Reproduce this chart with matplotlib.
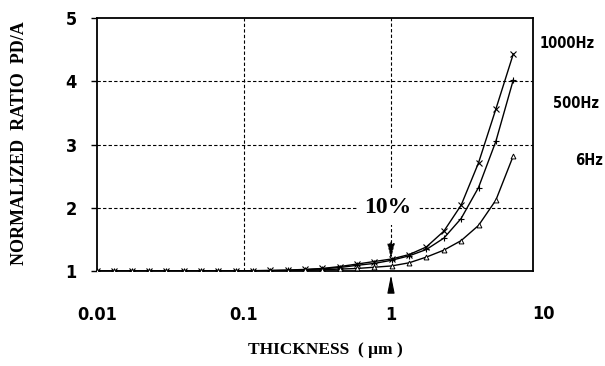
import matplotlib
matplotlib.use('Agg')
import matplotlib.pyplot as plt

# -- data --
thickness = [0.010, 0.0131, 0.0172, 0.0226, 0.0296, 0.0389, 0.0510, 0.0669,
             0.0878, 0.115, 0.151, 0.198, 0.260, 0.341, 0.448, 0.588,
             0.771, 1.01, 1.33, 1.74, 2.29, 3.00, 3.94, 5.17, 6.79]
ratio_1000 = [1.0, 1.0, 1.0, 1.0, 1.0, 1.0, 1.0, 1.0, 1.0, 1.005, 1.01, 1.015,
              1.025, 1.04, 1.07, 1.11, 1.15, 1.19, 1.26, 1.38, 1.63, 2.04,
              2.71, 3.56, 4.43]
ratio_500 = [1.0, 1.0, 1.0, 1.0, 1.0, 1.0, 1.0, 1.0, 1.0, 1.0, 1.005, 1.01,
             1.02, 1.035, 1.055, 1.09, 1.12, 1.17, 1.24, 1.34, 1.52, 1.83,
             2.32, 3.05, 4.02]
ratio_6 = [1.0, 1.0, 1.0, 1.0, 1.0, 1.0, 1.0, 1.0, 1.0, 1.0, 1.0, 1.005,
           1.01, 1.02, 1.03, 1.04, 1.06, 1.08, 1.13, 1.22, 1.33, 1.48,
           1.72, 2.12, 2.82]
series_labels = ['1000Hz', '500Hz', '6Hz']
x_ticks = [0.01, 0.1, 1]
x_tick_labels = ['0.01', '0.1', '1']
y_ticks = [1, 2, 3, 4, 5]

NARROW = dict(family=['Liberation Sans Narrow', 'DejaVu Sans'], fontweight='bold',
              fontstretch='condensed')
SERIF = ['Liberation Serif', 'DejaVu Serif']

fig = plt.figure(figsize=(6.05, 3.66), dpi=100)
ax = fig.add_axes([97 / 605, 1 - 271 / 366, (533 - 97) / 605, (271 - 18) / 366])

ax.set_xscale('log')
ax.set_xlim(0.01, 9.25)
ax.set_ylim(1, 5)

# grid (drawn by hand, the x=1 line stops at the arrow)
for yv in [2, 3, 4]:
    ax.axhline(yv, color='black', ls=(0, (3, 2)), lw=0.8, zorder=1)
ax.axvline(0.1, color='black', ls=(0, (3, 2)), lw=0.8, zorder=1)
ax.plot([1, 1], [1.45, 5], color='black', ls=(0, (3, 2)), lw=0.8, zorder=1)

ax.plot(thickness, ratio_1000, color='black', lw=1.0, marker='x', ms=4.5, mew=0.8, zorder=3)
ax.plot(thickness, ratio_500, color='black', lw=1.0, marker='+', ms=5, mew=0.8, zorder=3)
ax.plot(thickness, ratio_6, color='black', lw=1.0, marker='^', ms=3.5, mew=0.7,
        mfc='white', zorder=3)

# 10% marker and arrows
ax.text(0.955, 2.0, '10%', family=SERIF, fontweight='bold', fontsize=17,
        ha='center', va='center', zorder=4,
        bbox=dict(boxstyle='square,pad=0.3', fc='white', ec='none'))
ax.annotate('', xy=(1, 1.15), xytext=(1, 1.5),
            arrowprops=dict(arrowstyle='-|>,head_length=0.9,head_width=0.22',
                            color='black', lw=0.8, ls=(0, (2, 1.5))), zorder=5)
ax.annotate('', xy=(1, 0.98), xytext=(1, 0.66), annotation_clip=False,
            arrowprops=dict(arrowstyle='-|>,head_length=1.1,head_width=0.22',
                            color='black', lw=0.8))

for s in ax.spines.values():
    s.set_linewidth(1.3)

ax.set_yticks(y_ticks)
ax.set_yticklabels([str(v) for v in y_ticks], fontsize=13, **NARROW)
ax.tick_params(axis='y', direction='out', length=4.5, width=1, pad=10)
ax.set_xticks(x_ticks)
ax.set_xticklabels(x_tick_labels, fontsize=13, **NARROW)
ax.minorticks_off()
ax.tick_params(axis='x', length=0, pad=25)
ax.text(10.9, 1 - 34 / 63.5, '10', fontsize=13, ha='center', va='top',
        clip_on=False, **NARROW)

# right-hand series labels
fig.text(567 / 605, 1 - 43 / 366, series_labels[0], fontsize=10.5,
         ha='center', va='center', **NARROW)
fig.text(576 / 605, 1 - 104 / 366, series_labels[1], fontsize=10.5,
         ha='center', va='center', **NARROW)
fig.text(589 / 605, 1 - 161 / 366, series_labels[2], fontsize=10.5,
         ha='center', va='center', **NARROW)

fig.text(20 / 605, 1 - 143 / 366, 'NORMALIZED  RATIO  PD/A', family=SERIF,
         fontweight='bold', fontsize=13, rotation=90, ha='center', va='center')
fig.text(325 / 605, 1 - 350 / 366, 'THICKNESS  ( \u03bcm )', family=SERIF,
         fontweight='bold', fontsize=12.5, ha='center', va='center')

fig.savefig('out.png', dpi=100, facecolor='white')
